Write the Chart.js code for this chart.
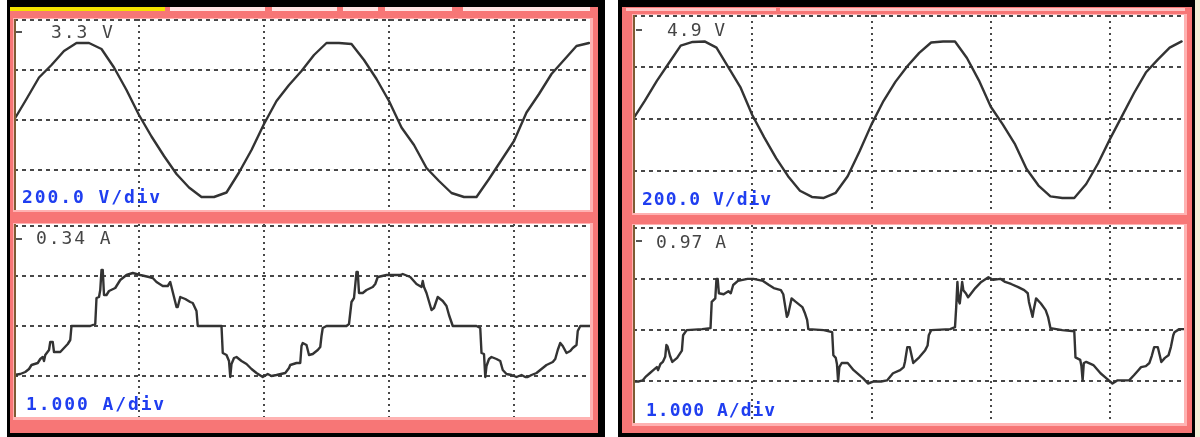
<!DOCTYPE html>
<html><head><meta charset="utf-8">
<script src="https://cdn.jsdelivr.net/npm/chart.js@4.4.1/dist/chart.umd.min.js"></script>
<style>
html,body{margin:0;padding:0;background:#fff;width:1200px;height:437px;overflow:hidden}
body{position:relative}
.a{position:absolute}
canvas.plot{position:absolute;background:#fff}
.lbl{position:absolute;font-family:"DejaVu Sans Mono",monospace;font-size:18px;line-height:18px;white-space:pre}
.gray{color:#454545}
.blue{color:#1f3ef0;font-weight:bold}
.ls-l{letter-spacing:1.9px}
.ls-r{letter-spacing:1.0px}
.mk{position:absolute;height:2px;width:6px;background:#555}
</style></head><body>

<!-- left instrument frame -->
<div class="a" style="left:7px;top:0;width:598px;height:437px;background:#000"></div>
<div class="a" style="left:10px;top:7px;width:588px;height:426px;background:#f77676"></div>
<div class="a" style="left:10px;top:7px;width:155px;height:4px;background:#f3e300"></div>
<div class="a" style="left:170px;top:7px;width:95px;height:4px;background:#ffe4e4"></div>
<div class="a" style="left:272px;top:7px;width:65px;height:4px;background:#ffe4e4"></div>
<div class="a" style="left:343px;top:7px;width:35px;height:4px;background:#ffe4e4"></div>
<div class="a" style="left:385px;top:7px;width:67px;height:4px;background:#ffe4e4"></div>
<div class="a" style="left:463px;top:7px;width:127px;height:4px;background:#ffe4e4"></div>
<div class="a" style="left:13px;top:18px;width:580px;height:194px;background:#ffb2b2"></div>
<div class="a" style="left:13px;top:223px;width:580px;height:197px;background:#ffb2b2"></div>

<!-- right instrument frame -->
<div class="a" style="left:1195px;top:0;width:5px;height:437px;background:#f3efd8"></div>
<div class="a" style="left:618px;top:0;width:577px;height:437px;background:#000"></div>
<div class="a" style="left:622px;top:7px;width:570px;height:426px;background:#f77676"></div>
<div class="a" style="left:626px;top:8px;width:150px;height:3px;background:#ffc4c4"></div>
<div class="a" style="left:780px;top:8px;width:405px;height:3px;background:#ffc4c4"></div>
<div class="a" style="left:632px;top:14px;width:555px;height:201px;background:#ffb2b2"></div>
<div class="a" style="left:632px;top:224px;width:555px;height:202px;background:#ffb2b2"></div>

<canvas id="cLV" class="plot" width="576" height="191" style="left:14px;top:19px"></canvas>
<canvas id="cLI" class="plot" width="576" height="193" style="left:14px;top:224px"></canvas>
<canvas id="cRV" class="plot" width="551" height="198" style="left:633px;top:15px"></canvas>
<canvas id="cRI" class="plot" width="551" height="198" style="left:633px;top:225px"></canvas>

<div class="a" style="left:14px;top:19px;width:2px;height:191px;background:#7d5c33"></div>
<div class="a" style="left:14px;top:224px;width:2px;height:193px;background:#7d5c33"></div>
<div class="a" style="left:633px;top:15px;width:2px;height:198px;background:#7d5c33"></div>
<div class="a" style="left:633px;top:225px;width:2px;height:198px;background:#7d5c33"></div>

<div class="mk" style="left:16px;top:31px"></div>
<div class="mk" style="left:16px;top:238px"></div>
<div class="mk" style="left:636px;top:29px"></div>
<div class="mk" style="left:636px;top:240px"></div>

<div class="lbl gray ls-l" style="left:51px;top:23px">3.3 V</div>
<div class="lbl blue ls-l" style="left:22px;top:188px">200.0 V/div</div>
<div class="lbl gray ls-l" style="left:36px;top:229px">0.34 A</div>
<div class="lbl blue ls-l" style="left:26px;top:395px">1.000 A/div</div>
<div class="lbl gray ls-r" style="left:667px;top:21px">4.9 V</div>
<div class="lbl blue ls-r" style="left:642px;top:190px">200.0 V/div</div>
<div class="lbl gray ls-r" style="left:656px;top:233px">0.97 A</div>
<div class="lbl blue ls-r" style="left:646px;top:401px">1.000 A/div</div>

<script>
// time axis in divisions (one division = one half mains period)
const voltTime = [0,0.1,0.2,0.3,0.4,0.5,0.6,0.7,0.8,0.9,1.0,1.1,1.2,1.3,1.4,1.5,1.6,1.7,1.8,1.9,2.0,
  2.1,2.2,2.3,2.4,2.5,2.6,2.7,2.8,2.9,3.0,3.1,3.2,3.3,3.4,3.5,3.6,3.7,3.8,3.9,4.0,4.1,4.2,4.3,4.4,4.5,4.6];

// voltage traces in divisions (200 V/div)
const voltLeft = [0,0.42,0.85,1.1,1.38,1.54,1.54,1.42,1.05,0.6,0.1,-0.33,-0.72,-1.08,-1.35,-1.54,-1.54,-1.45,-1.05,-0.6,-0.08,
  0.38,0.7,0.98,1.3,1.54,1.54,1.52,1.2,0.82,0.38,-0.15,-0.5,-0.96,-1.22,-1.46,-1.54,-1.54,-1.18,-0.8,-0.42,0.15,0.52,0.92,1.2,1.48,1.54];
const voltRight = [0,0.36,0.74,1.08,1.42,1.49,1.5,1.38,1.0,0.62,0.08,-0.35,-0.75,-1.1,-1.38,-1.5,-1.52,-1.42,-1.1,-0.62,-0.1,
  0.35,0.72,1.02,1.28,1.48,1.5,1.5,1.18,0.75,0.24,-0.1,-0.47,-0.96,-1.28,-1.49,-1.52,-1.52,-1.25,-0.85,-0.38,0.06,0.5,0.9,1.15,1.38,1.5];

// current traces as [time div, current div] (1.000 A/div)
const currentLeft = [[0.00,-0.98],[0.05,-0.96],[0.09,-0.92],[0.12,-0.86],[0.14,-0.78],[0.19,-0.74],[0.21,-0.66],[0.23,-0.62],[0.24,-0.70],[0.25,-0.58],
  [0.28,-0.48],[0.29,-0.32],[0.31,-0.32],[0.32,-0.52],[0.37,-0.52],[0.40,-0.44],[0.43,-0.36],[0.45,-0.28],[0.46,0],[0.61,0],
  [0.65,0.04],[0.66,0.56],[0.68,0.58],[0.69,0.72],[0.70,1.12],[0.71,1.12],[0.72,0.62],[0.74,0.62],[0.76,0.70],[0.81,0.76],
  [0.85,0.92],[0.90,1.02],[0.95,1.06],[1.01,1.02],[1.08,0.98],[1.11,0.96],[1.14,0.88],[1.19,0.80],[1.23,0.80],[1.25,0.88],
  [1.27,0.68],[1.30,0.38],[1.31,0.38],[1.33,0.58],[1.37,0.54],[1.41,0.48],[1.43,0.46],[1.46,0.30],[1.47,0],[1.66,0],
  [1.67,-0.54],[1.70,-0.58],[1.72,-0.70],[1.73,-1.02],[1.74,-0.76],[1.76,-0.64],[1.78,-0.62],[1.82,-0.70],[1.86,-0.76],[1.90,-0.86],
  [1.94,-0.94],[1.99,-1.02],[2.03,-0.96],[2.06,-1.00],[2.10,-0.98],[2.17,-0.94],[2.20,-0.84],[2.21,-0.78],[2.26,-0.74],[2.29,-0.74],
  [2.30,-0.40],[2.31,-0.34],[2.34,-0.38],[2.36,-0.58],[2.39,-0.56],[2.43,-0.48],[2.45,-0.42],[2.46,-0.20],[2.47,-0.04],[2.50,0],
  [2.66,0],[2.68,0.04],[2.70,0.48],[2.72,0.56],[2.74,1.08],[2.75,1.08],[2.76,0.66],[2.79,0.66],[2.82,0.72],[2.87,0.78],
  [2.89,0.84],[2.91,0.98],[2.98,1.02],[3.04,1.02],[3.09,1.02],[3.11,1.04],[3.17,0.98],[3.22,0.84],[3.26,0.78],[3.27,0.90],
  [3.28,0.78],[3.30,0.66],[3.34,0.32],[3.36,0.36],[3.39,0.58],[3.43,0.50],[3.46,0.40],[3.48,0.22],[3.51,0],[3.70,0],
  [3.73,-0.04],[3.74,-0.54],[3.76,-0.56],[3.77,-1.02],[3.78,-0.80],[3.80,-0.66],[3.82,-0.62],[3.86,-0.66],[3.89,-0.70],[3.91,-0.88],
  [3.94,-0.96],[3.98,-0.98],[4.02,-1.02],[4.06,-0.98],[4.09,-1.02],[4.11,-1.02],[4.14,-0.98],[4.18,-0.94],[4.21,-0.88],[4.26,-0.78],
  [4.31,-0.72],[4.33,-0.66],[4.35,-0.48],[4.37,-0.34],[4.39,-0.40],[4.42,-0.54],[4.45,-0.50],[4.47,-0.44],[4.50,-0.38],[4.51,-0.10],
  [4.53,0],[4.61,0]];

const currentRight = [[0.00,-1.00],[0.05,-1.00],[0.08,-0.98],[0.11,-0.90],[0.14,-0.84],[0.17,-0.78],[0.20,-0.72],[0.21,-0.78],[0.23,-0.66],[0.25,-0.62],
  [0.27,-0.52],[0.28,-0.29],[0.29,-0.32],[0.31,-0.50],[0.33,-0.62],[0.37,-0.54],[0.41,-0.40],[0.42,-0.10],[0.45,0],[0.58,0.02],
  [0.65,0.04],[0.66,0.55],[0.69,0.62],[0.70,1.00],[0.71,1.00],[0.72,0.72],[0.76,0.70],[0.80,0.76],[0.82,0.72],[0.84,0.88],
  [0.88,0.96],[0.92,0.98],[0.96,1.00],[1.01,1.00],[1.05,0.98],[1.09,0.96],[1.14,0.88],[1.18,0.82],[1.24,0.78],[1.26,0.70],
  [1.29,0.26],[1.30,0.30],[1.33,0.62],[1.36,0.56],[1.42,0.45],[1.44,0.34],[1.46,0.20],[1.47,0.02],[1.60,0],[1.67,-0.04],
  [1.68,-0.49],[1.70,-0.54],[1.71,-0.66],[1.72,-1.00],[1.73,-0.72],[1.75,-0.64],[1.80,-0.64],[1.85,-0.78],[1.93,-0.94],[1.97,-1.04],
  [2.02,-1.00],[2.08,-1.00],[2.13,-0.98],[2.18,-0.84],[2.24,-0.78],[2.27,-0.72],[2.28,-0.62],[2.30,-0.33],[2.32,-0.33],[2.35,-0.64],
  [2.40,-0.53],[2.45,-0.39],[2.47,-0.30],[2.48,-0.10],[2.50,0],[2.66,0.02],[2.70,0.06],[2.71,0.45],[2.72,0.94],[2.73,0.58],
  [2.74,0.52],[2.76,0.94],[2.77,0.78],[2.79,0.72],[2.81,0.64],[2.83,0.70],[2.87,0.82],[2.92,0.94],[2.98,1.03],[3.02,0.98],
  [3.08,1.00],[3.12,0.94],[3.17,0.90],[3.23,0.84],[3.28,0.78],[3.31,0.72],[3.32,0.55],[3.35,0.26],[3.36,0.40],[3.38,0.62],
  [3.42,0.52],[3.46,0.39],[3.48,0.26],[3.50,0.04],[3.60,0],[3.70,-0.02],[3.71,-0.53],[3.75,-0.58],[3.76,-0.70],[3.77,-0.98],
  [3.78,-0.64],[3.80,-0.62],[3.86,-0.68],[3.92,-0.84],[3.97,-0.94],[4.02,-1.04],[4.06,-0.98],[4.12,-0.98],[4.16,-0.98],[4.20,-0.88],
  [4.23,-0.80],[4.26,-0.72],[4.30,-0.70],[4.33,-0.64],[4.35,-0.50],[4.37,-0.33],[4.40,-0.33],[4.43,-0.62],[4.46,-0.54],[4.49,-0.49],
  [4.51,-0.33],[4.53,-0.10],[4.54,-0.04],[4.58,0.02],[4.62,0.02]];

function scope(id, points, xMax, yMin, yMax) {
  new Chart(document.getElementById(id), {
    type: 'line',
    data: { datasets: [{
      data: points,
      borderColor: '#333', borderWidth: 2.4, tension: 0,
      pointRadius: 0, fill: false, borderJoinStyle: 'round', borderCapStyle: 'round'
    }]},
    options: {
      responsive: false, animation: false, events: [],
      layout: { padding: 0 },
      plugins: { legend: { display: false }, tooltip: { enabled: false } },
      scales: {
        x: { type: 'linear', min: 0, max: xMax,
             ticks: { display: false, stepSize: 1, includeBounds: false },
             grid: { color: '#484848', lineWidth: 2, drawTicks: false },
             border: { display: false, dash: [2, 4] } },
        y: { type: 'linear', min: yMin, max: yMax,
             ticks: { display: false, stepSize: 1, includeBounds: false },
             grid: { color: '#484848', lineWidth: 2, drawTicks: false },
             border: { display: false, dash: [4, 4] } }
      }
    }
  });
}
const pts = (t, v) => t.map((x, i) => ({ x, y: v[i] }));
const pairs = p => p.map(([x, y]) => ({ x, y }));

scope('cLV', pts(voltTime, voltLeft), 4.608, -1.80, 2.02);
scope('cLI', pairs(currentLeft), 4.608, -1.82, 2.04);
scope('cRV', pts(voltTime, voltRight), 4.62, -1.81, 2.01);
scope('cRI', pairs(currentRight), 4.62, -1.81, 2.05);
</script>
</body></html>
